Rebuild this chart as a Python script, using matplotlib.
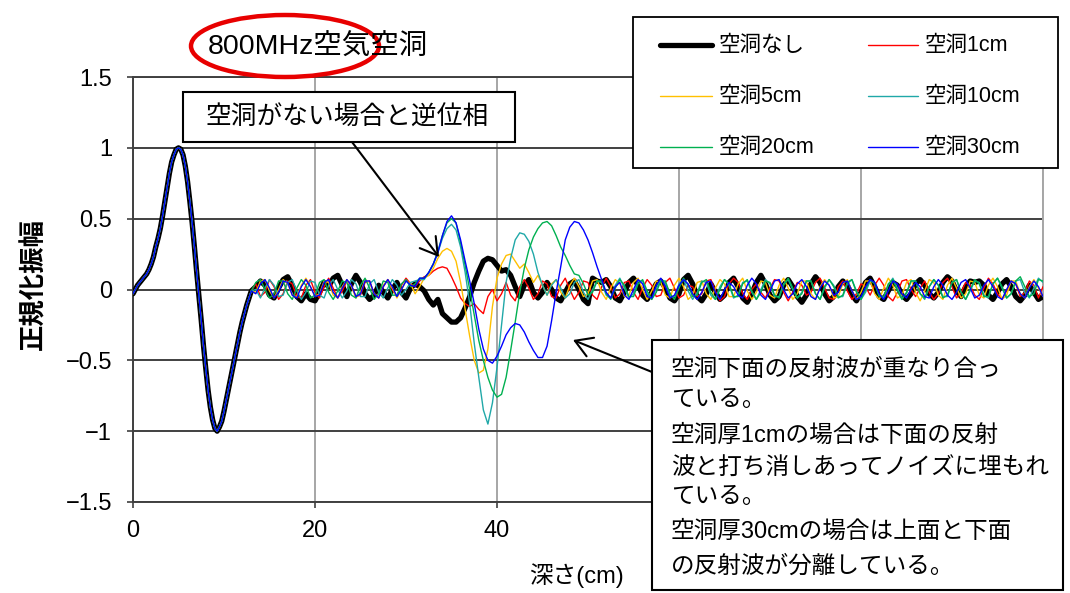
import numpy as np
import matplotlib
matplotlib.use("Agg")
import matplotlib.pyplot as plt
from matplotlib.patches import Rectangle, Ellipse, FancyArrowPatch
from matplotlib.lines import Line2D

plt.rcParams['font.family'] = ['Liberation Sans', 'Noto Sans CJK JP', 'DejaVu Sans']

# ---------------------------------------------------------------- data
# transmitted pulse shared by every trace, sampled every 0.25 cm (0 .. 13 cm)
depth_head = np.arange(0, 13.001, 0.25)
pulse_head = [
    -0.03, 0.00, 0.03, 0.05, 0.07, 0.09, 0.11, 0.14, 0.18, 0.23,
    0.30, 0.36, 0.43, 0.52, 0.62, 0.72, 0.82, 0.90, 0.95, 0.99,
    1.00, 0.99, 0.95, 0.87, 0.76, 0.62, 0.47, 0.30, 0.12, -0.05,
    -0.22, -0.40, -0.56, -0.71, -0.83, -0.92, -0.98, -1.00, -0.97, -0.93,
    -0.86, -0.78, -0.70, -0.62, -0.54, -0.46, -0.38, -0.30, -0.23, -0.17,
    -0.11, -0.06, -0.01,
]

# remaining trace, sampled every 0.5 cm (13.5 .. 100 cm), one row per 5 cm
depth_tail = np.arange(13.5, 100.001, 0.5)
tail_none = [
    0.02, 0.06, 0.03, -0.04, -0.06, 0.01, 0.07, 0.09, 0.03, -0.05,
    -0.08, -0.03, -0.07, -0.08, -0.02, 0.05, 0.02, 0.08, 0.10, 0.03,
    -0.05, 0.04, 0.10, 0.05, -0.03, -0.07, -0.04, 0.03, -0.02, -0.06,
    0.00, 0.05, -0.02, -0.06, 0.01, 0.04, 0.02, -0.01, -0.07, -0.11,
    -0.07, -0.17, -0.20, -0.23, -0.23, -0.20, -0.13, -0.05, 0.05, 0.13,
    0.20, 0.22, 0.21, 0.17, 0.13, 0.14, 0.10, 0.02, -0.05, 0.03,
    0.07, -0.02, -0.06, -0.02, 0.05, 0.00, -0.06, -0.08, -0.02, 0.04,
    0.06, 0.00, -0.07, -0.10, 0.08, 0.06, 0.05, 0.07, 0.02, -0.06,
    -0.08, -0.02, 0.05, 0.08, 0.03, -0.04, -0.07, -0.02, 0.04, 0.06,
    0.01, -0.06, -0.08, -0.03, 0.07, 0.10, 0.04, -0.05, -0.08, -0.03,
    0.04, -0.02, -0.07, -0.04, 0.05, 0.08, 0.02, -0.06, -0.09, -0.03,
    0.05, 0.10, 0.04, -0.04, -0.08, -0.05, 0.03, 0.07, 0.02, -0.05,
    -0.09, -0.04, 0.04, 0.09, 0.05, -0.03, -0.08, -0.05, 0.02, 0.06,
    0.03, -0.04, -0.08, -0.02, 0.05, 0.08, 0.02, -0.05, -0.07, -0.01,
    0.05, 0.03, -0.04, -0.07, -0.03, 0.04, 0.07, 0.03, -0.03, -0.06,
    -0.02, 0.05, 0.09, 0.06, -0.01, -0.05, 0.02, 0.06, 0.05, 0.06,
    0.03, -0.04, -0.07, -0.02, 0.04, 0.07, 0.02, -0.05, -0.08, -0.04,
    0.03, -0.02, -0.07, -0.05,
]
tail_1cm = [
    0.04, -0.05, -0.02, 0.07, 0.02, -0.07, -0.03, 0.06, 0.04, -0.05,
    -0.06, 0.03, 0.07, -0.02, -0.06, 0.02, 0.08, 0.01, -0.06, -0.01,
    0.06, 0.03, -0.05, -0.04, 0.05, 0.06, -0.03, -0.06, 0.02, 0.07,
    0.00, -0.05, 0.03, 0.08, 0.04, 0.02, 0.06, 0.09, 0.10, 0.13,
    0.15, 0.16, 0.15, 0.09, 0.02, -0.06, -0.10, -0.12, -0.10, -0.14,
    -0.17, -0.05, 0.00, -0.08, -0.03, 0.05, -0.04, -0.08, 0.02, 0.07,
    0.01, -0.07, -0.03, 0.06, 0.04, -0.05, -0.06, 0.03, 0.08, 0.00,
    -0.07, -0.02, 0.06, 0.05, -0.04, -0.07, 0.02, 0.08, 0.02, -0.06,
    -0.03, 0.05, 0.06, -0.02, -0.07, 0.01, 0.07, 0.03, -0.05, -0.04,
    0.05, 0.08, 0.01, -0.06, -0.04, 0.03, 0.02, -0.05, -0.03, 0.06,
    0.07, -0.01, -0.08, -0.05, 0.04, 0.08, 0.05, -0.03, -0.07, 0.00,
    0.04, -0.02, -0.06, 0.01, 0.07, 0.06, -0.02, -0.08, -0.02, 0.05,
    0.03, -0.04, -0.02, 0.05, 0.08, 0.01, -0.06, -0.07, 0.02, 0.06,
    -0.01, -0.07, -0.03, 0.04, 0.02, -0.04, 0.03, 0.08, 0.03, -0.05,
    -0.08, -0.02, 0.06, 0.07, 0.00, -0.05, 0.01, 0.06, -0.02, -0.07,
    -0.03, 0.05, 0.08, 0.02, -0.06, -0.02, 0.05, 0.03, -0.04, -0.07,
    0.01, 0.08, 0.04, -0.03, -0.07, -0.01, 0.06, 0.04, -0.05, -0.02,
    0.06, 0.03, -0.06, 0.02,
]
tail_5cm = [
    -0.02, 0.06, 0.07, -0.01, -0.06, 0.00, 0.07, 0.04, -0.04, -0.05,
    0.03, 0.08, 0.02, -0.05, -0.03, 0.06, 0.05, -0.04, -0.06, 0.02,
    0.07, 0.02, -0.06, -0.02, 0.07, 0.05, -0.03, -0.05, 0.03, 0.07,
    0.01, -0.06, 0.00, 0.06, 0.04, -0.03, 0.02, 0.08, 0.10, 0.15,
    0.22, 0.27, 0.29, 0.27, 0.20, 0.05, -0.14, -0.33, -0.50, -0.59,
    -0.57, -0.42, -0.12, 0.08, 0.18, 0.24, 0.25, 0.20, 0.15, 0.18,
    0.12, 0.05, 0.10, 0.03, -0.04, 0.04, 0.07, -0.02, -0.06, 0.03,
    0.08, 0.02, -0.05, -0.03, 0.06, 0.07, -0.02, -0.07, 0.01, 0.07,
    0.04, -0.05, -0.04, 0.05, 0.08, 0.00, -0.07, -0.01, 0.06, 0.05,
    -0.04, -0.06, 0.03, 0.08, 0.02, -0.07, -0.04, 0.05, 0.06, -0.03,
    -0.07, 0.01, 0.07, 0.04, -0.05, -0.05, 0.04, 0.08, -0.01, -0.07,
    -0.02, 0.06, 0.05, -0.04, -0.06, 0.03, 0.08, 0.01, -0.07, -0.03,
    0.06, 0.06, -0.03, -0.07, 0.02, 0.07, 0.03, -0.06, -0.05, 0.04,
    0.07, -0.01, -0.07, -0.02, 0.06, 0.06, -0.03, -0.07, 0.01, 0.08,
    0.03, -0.06, -0.04, 0.05, 0.07, -0.02, -0.08, -0.01, 0.07, 0.05,
    -0.04, -0.07, 0.03, 0.08, 0.01, -0.06, -0.03, 0.06, 0.05, -0.04,
    -0.06, 0.03, 0.08, 0.02, -0.07, -0.04, 0.06, 0.06, -0.03, -0.06,
    0.02, 0.07, 0.01, -0.05,
]
tail_10cm = [
    0.00, -0.06, 0.01, 0.07, 0.03, -0.05, -0.04, 0.05, 0.07, -0.01,
    -0.07, -0.02, 0.06, 0.05, -0.04, -0.06, 0.03, 0.07, 0.00, -0.06,
    -0.01, 0.07, 0.04, -0.05, -0.05, 0.04, 0.07, -0.02, -0.06, 0.01,
    0.07, 0.03, -0.04, 0.00, 0.05, 0.06, 0.07, 0.07, 0.12, 0.18,
    0.26, 0.36, 0.43, 0.46, 0.42, 0.30, 0.12, -0.10, -0.38, -0.62,
    -0.85, -0.95, -0.80, -0.55, -0.25, 0.05, 0.22, 0.35, 0.40, 0.39,
    0.34, 0.25, 0.12, 0.03, -0.04, 0.03, 0.07, 0.01, -0.06, -0.03,
    0.05, 0.07, -0.02, -0.07, 0.00, 0.06, 0.05, -0.04, -0.06, 0.03,
    0.08, 0.01, -0.06, -0.03, 0.06, 0.06, -0.03, -0.07, 0.01, 0.07,
    0.04, -0.05, -0.05, 0.04, 0.07, -0.01, -0.07, -0.02, 0.06, 0.05,
    -0.04, -0.07, 0.02, 0.07, 0.03, -0.06, -0.04, 0.05, 0.06, -0.02,
    -0.07, 0.00, 0.07, 0.04, -0.05, -0.05, 0.04, 0.07, 0.00, -0.06,
    -0.02, 0.06, 0.06, -0.03, -0.07, 0.01, 0.07, 0.03, -0.05, -0.05,
    0.04, 0.07, -0.01, -0.07, -0.02, 0.06, 0.05, -0.04, -0.06, 0.03,
    0.08, 0.01, -0.06, -0.03, 0.06, 0.06, -0.03, -0.07, 0.02, 0.07,
    0.03, -0.05, -0.05, 0.05, 0.07, -0.02, -0.07, -0.01, 0.06, 0.05,
    -0.04, -0.06, 0.04, 0.08, 0.01, -0.06, -0.03, 0.06, 0.07, -0.02,
    -0.06, 0.01, 0.08, 0.05,
]
tail_20cm = [
    0.05, 0.07, 0.00, -0.06, -0.03, 0.06, 0.06, -0.03, -0.07, 0.01,
    0.07, 0.03, -0.06, -0.04, 0.05, 0.07, -0.02, -0.07, -0.01, 0.06,
    0.05, -0.04, -0.06, 0.03, 0.08, 0.01, -0.07, -0.03, 0.06, 0.05,
    -0.04, -0.04, 0.04, 0.07, 0.02, 0.04, 0.08, 0.08, 0.12, 0.18,
    0.27, 0.38, 0.47, 0.50, 0.47, 0.33, 0.17, 0.00, -0.18, -0.36,
    -0.50, -0.62, -0.71, -0.76, -0.74, -0.62, -0.43, -0.23, -0.02, 0.15,
    0.28, 0.37, 0.43, 0.47, 0.48, 0.45, 0.38, 0.30, 0.24, 0.17,
    0.11, 0.10, 0.04, -0.04, -0.02, 0.06, 0.06, -0.03, -0.07, 0.01,
    0.07, 0.03, -0.05, -0.05, 0.04, 0.07, -0.01, -0.07, -0.02, 0.06,
    0.06, -0.03, -0.07, 0.01, 0.08, 0.03, -0.05, -0.04, 0.05, 0.07,
    -0.02, -0.07, 0.00, 0.07, 0.04, -0.05, -0.05, 0.04, 0.07, -0.01,
    -0.07, -0.02, 0.06, 0.05, -0.04, -0.06, 0.03, 0.08, 0.01, -0.06,
    -0.03, 0.06, 0.06, -0.03, -0.07, 0.02, 0.07, 0.02, -0.06, -0.04,
    0.05, 0.07, -0.02, -0.07, 0.00, 0.07, 0.04, -0.05, -0.05, 0.04,
    0.07, -0.01, -0.07, -0.02, 0.06, 0.06, -0.03, -0.06, 0.02, 0.07,
    0.03, -0.06, -0.04, 0.05, 0.07, -0.02, -0.07, 0.00, 0.07, 0.04,
    -0.05, -0.05, 0.04, 0.08, 0.02, -0.06, -0.03, 0.06, 0.09, 0.02,
    -0.05, -0.03, 0.07, 0.06,
]
tail_30cm = [
    -0.03, 0.04, 0.07, 0.01, -0.06, -0.02, 0.06, 0.05, -0.04, -0.06,
    0.02, 0.07, 0.02, -0.05, -0.04, 0.05, 0.07, -0.02, -0.06, 0.01,
    0.07, 0.03, -0.05, -0.03, 0.06, 0.06, -0.03, -0.06, 0.02, 0.07,
    0.02, -0.05, 0.00, 0.06, 0.03, 0.02, 0.08, 0.08, 0.12, 0.18,
    0.26, 0.38, 0.48, 0.52, 0.47, 0.35, 0.20, 0.06, -0.10, -0.28,
    -0.42, -0.50, -0.52, -0.47, -0.40, -0.32, -0.27, -0.24, -0.25, -0.30,
    -0.37, -0.43, -0.48, -0.48, -0.40, -0.22, -0.02, 0.16, 0.35, 0.44,
    0.48, 0.47, 0.42, 0.35, 0.26, 0.16, 0.07, -0.02, -0.06, 0.02,
    0.05, -0.04, -0.07, 0.00, 0.07, 0.04, -0.05, -0.06, 0.03, 0.08,
    0.02, -0.06, -0.04, 0.03, 0.07, 0.04, -0.03, -0.07, -0.02, 0.05,
    0.06, -0.02, -0.07, 0.00, 0.05, 0.02, -0.04, -0.06, 0.03, 0.08,
    0.04, -0.04, -0.07, -0.01, 0.06, 0.07, 0.00, -0.06, -0.03, 0.04,
    0.07, 0.02, -0.05, -0.07, 0.01, 0.06, 0.03, -0.04, -0.02, 0.05,
    0.06, -0.01, -0.07, -0.05, 0.02, 0.07, 0.05, -0.03, -0.07, -0.01,
    0.06, 0.04, -0.03, -0.06, 0.00, 0.05, 0.02, -0.05, -0.06, 0.02,
    0.07, 0.03, -0.04, -0.07, -0.02, 0.05, 0.07, 0.01, -0.06, -0.04,
    0.03, 0.07, 0.02, -0.05, -0.07, 0.00, 0.06, 0.04, -0.03, -0.06,
    0.01, 0.06, 0.02, -0.05,
]

series_names = ['空洞なし', '空洞1cm', '空洞5cm', '空洞10cm', '空洞20cm', '空洞30cm']
series_tails = [tail_none, tail_1cm, tail_5cm, tail_10cm, tail_20cm, tail_30cm]
series_colors = ['#000000', '#FF0000', '#FFC000', '#20A8A8', '#00B050', '#0000FF']
series_widths = [3.8, 1.0, 1.0, 1.0, 1.0, 1.0]

xticks = [0, 20, 40, 60, 80, 100]
# the labels under 60-100 sit behind the note box
xtick_labels = ['0', '20', '40', '', '', '']
yticks = [-1.5, -1.0, -0.5, 0.0, 0.5, 1.0, 1.5]
ytick_labels = ['−1.5', '−1', '−0.5', '0', '0.5', '1', '1.5']

# ---------------------------------------------------------------- figure
W, H = 1070, 593


def fx(px):
    return px / W


def fy(py):
    return 1 - py / H


fig = plt.figure(figsize=(W / 100, H / 100), dpi=100)
ax = fig.add_axes([fx(133), fy(502), fx(1043) - fx(133), fy(77) - fy(502)])

depth = np.concatenate([depth_head, depth_tail])
for tail, color, lw in zip(series_tails, series_colors, series_widths):
    values = np.concatenate([pulse_head, tail])
    ax.plot(depth, values, color=color, lw=lw, solid_joinstyle='round',
            solid_capstyle='round', zorder=3)

ax.set_xlim(0, 100)
ax.set_ylim(-1.5, 1.5)
ax.set_xticks(xticks)
ax.set_xticklabels(xtick_labels)
ax.set_yticks(yticks)
ax.set_yticklabels(ytick_labels)
ax.set_axisbelow(True)
ax.grid(axis='y', color='#404040', lw=1.4)
ax.grid(axis='x', color='#A6A6A6', lw=1.4)
for side in ('left', 'bottom', 'top'):
    ax.spines[side].set_color('#404040')
    ax.spines[side].set_linewidth(1.4)
ax.spines['right'].set_color('#A6A6A6')
ax.spines['right'].set_linewidth(1.4)
ax.tick_params(axis='both', labelsize=17, length=4, width=1.2, color='#404040',
               labelcolor='black')
ax.tick_params(axis='y', pad=11)
ax.tick_params(axis='x', pad=9)

# axis titles and chart title
fig.text(fx(34), fy(284), '正規化振幅', rotation=90, ha='center', va='center',
         fontsize=19, fontweight='bold')
fig.text(fx(576), fy(576), '深さ(cm)', ha='center', va='center', fontsize=17)
fig.text(fx(318), fy(48), '800MHz空気空洞', ha='center', va='center', fontsize=20.5)
fig.add_artist(Ellipse((fx(285), fy(46)), 188 / W, 62 / H, fill=False,
                       edgecolor='#E80000', lw=3.2, transform=fig.transFigure))

# legend box
fig.add_artist(Rectangle((fx(633), fy(168)), (1058 - 633) / W, (168 - 17) / H,
                         facecolor='white', edgecolor='black', lw=1.3,
                         transform=fig.transFigure, zorder=5))
legend_rows = [45, 96, 147]
legend_cols = [(660, 712, 719), (868, 918, 925)]
for k, (name, color, lw) in enumerate(zip(series_names, series_colors, series_widths)):
    row, col = k // 2, k % 2
    x0, x1, xt = legend_cols[col]
    yy = fy(legend_rows[row])
    fig.add_artist(Line2D([fx(x0), fx(x1)], [yy, yy], color=color, lw=lw,
                          solid_capstyle='round', transform=fig.transFigure, zorder=6))
    fig.text(fx(xt), yy, name, ha='left', va='center', fontsize=15.5, zorder=6)

# callout: opposite phase
fig.add_artist(Rectangle((fx(183), fy(142)), (515 - 183) / W, (142 - 92) / H,
                         facecolor='white', edgecolor='black', lw=1.5,
                         transform=fig.transFigure, zorder=5))
fig.text(fx(347), fy(118), '空洞がない場合と逆位相', ha='center', va='center',
         fontsize=18.5, zorder=6)
fig.add_artist(FancyArrowPatch((fx(352), fy(142)), (fx(439), fy(257)),
                               transform=fig.transFigure,
                               arrowstyle='->,head_length=0.6,head_width=0.36',
                               mutation_scale=20, lw=1.5, color='black',
                               shrinkA=0, shrinkB=0, zorder=6))

# callout: bottom-surface reflections
fig.add_artist(Rectangle((fx(652), fy(590)), (1063 - 652) / W, (590 - 340) / H,
                         facecolor='white', edgecolor='black', lw=1.5,
                         transform=fig.transFigure, zorder=5))
note_lines = [
    ('空洞下面の反射波が重なり合っ', 370),
    ('ている。', 400),
    ('空洞厚1cmの場合は下面の反射', 436),
    ('波と打ち消しあってノイズに埋もれ', 469),
    ('ている。', 497),
    ('空洞厚30cmの場合は上面と下面', 532),
    ('の反射波が分離している。', 567),
]
for line, ypx in note_lines:
    fig.text(fx(671), fy(ypx), line, ha='left', va='center', fontsize=17, zorder=6)
fig.add_artist(FancyArrowPatch((fx(652), fy(372)), (fx(573), fy(340)),
                               transform=fig.transFigure,
                               arrowstyle='->,head_length=0.6,head_width=0.36',
                               mutation_scale=20, lw=1.5, color='black',
                               shrinkA=0, shrinkB=0, zorder=6))

fig.savefig('out.png', dpi=100)
